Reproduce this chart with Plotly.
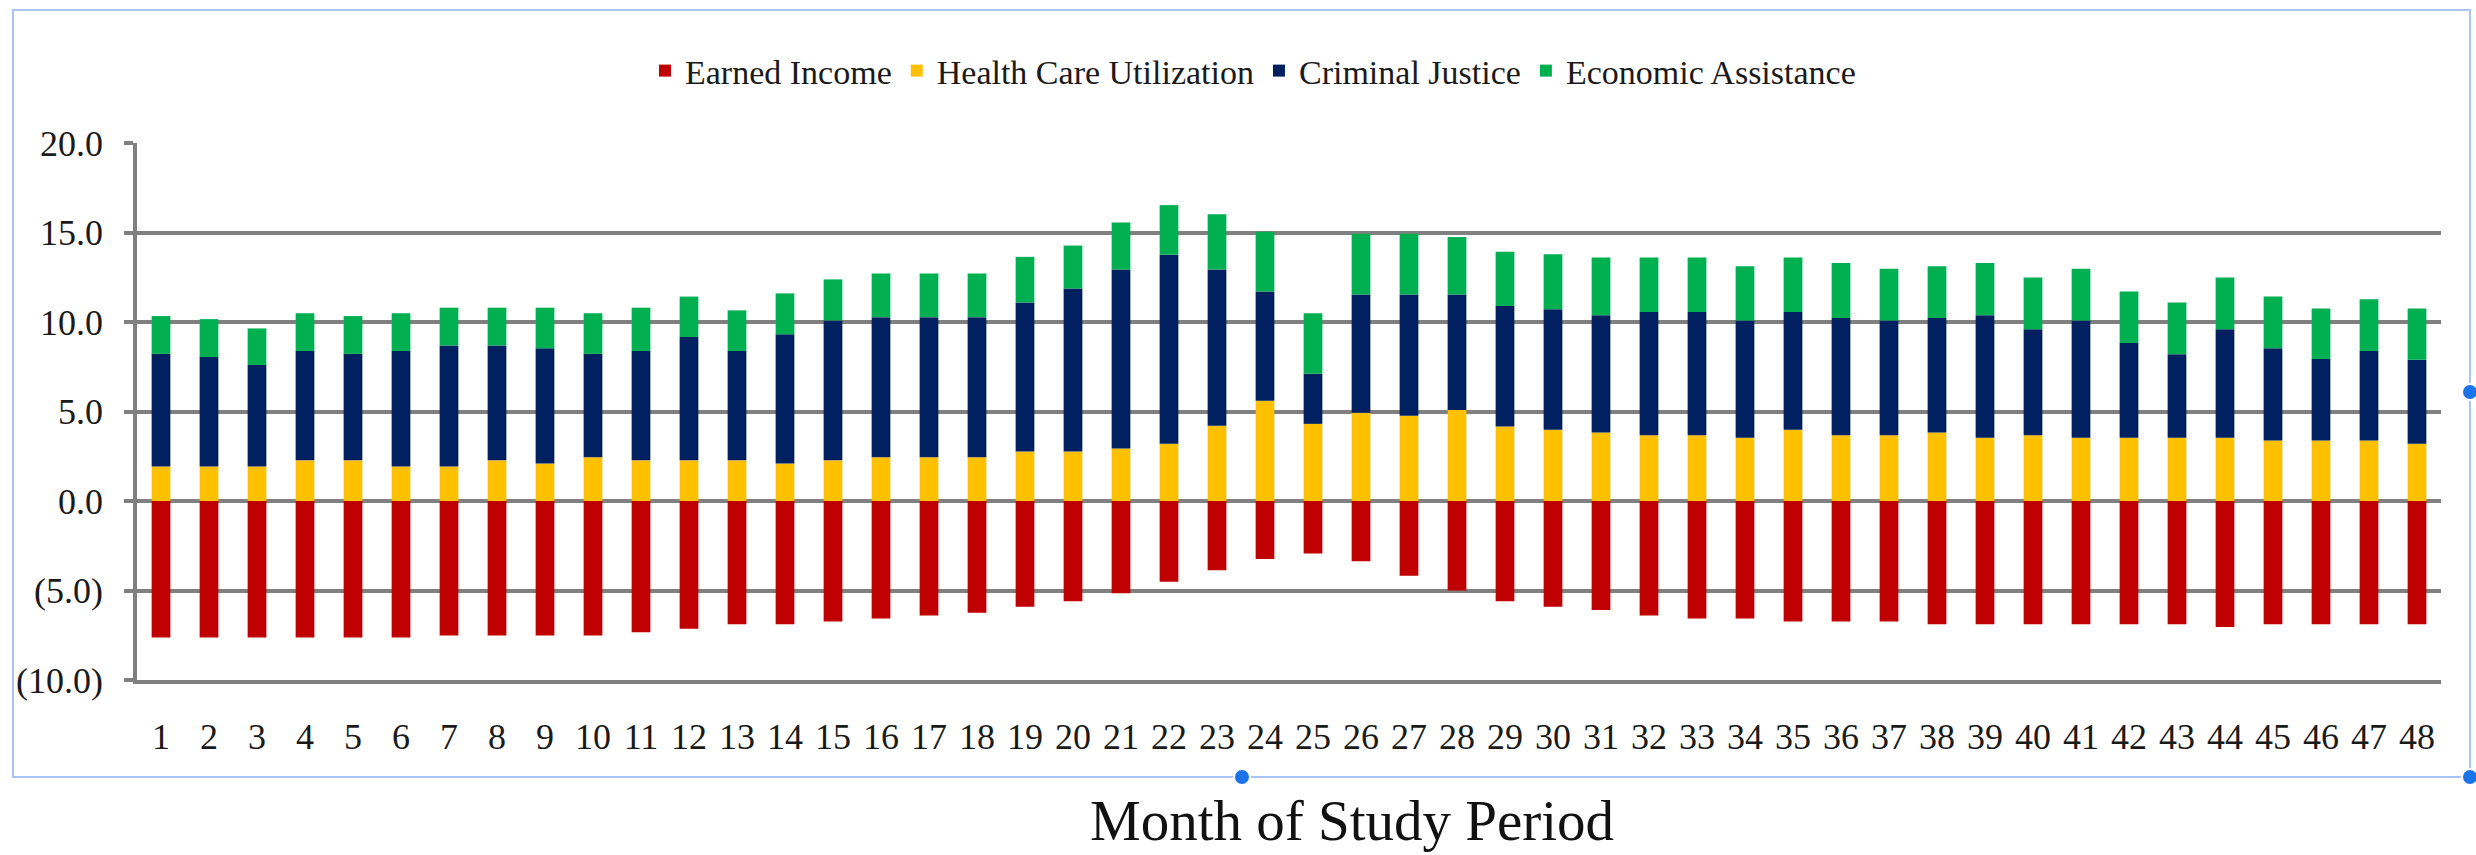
import plotly.graph_objects as go

months = [str(i) for i in range(1, 49)]

earned_income = [-7.62, -7.62, -7.62, -7.62, -7.62, -7.62, -7.51, -7.51, -7.51, -7.51,
                 -7.33, -7.13, -6.89, -6.89, -6.73, -6.56, -6.40, -6.24, -5.91, -5.60,
                 -5.16, -4.51, -3.87, -3.24, -2.93, -3.36, -4.18, -5.00, -5.60, -5.91,
                 -6.09, -6.40, -6.56, -6.56, -6.73, -6.73, -6.73, -6.89, -6.89, -6.89,
                 -6.89, -6.89, -6.89, -7.04, -6.89, -6.89, -6.89, -6.89]

health_care = [1.93, 1.93, 1.93, 2.27, 2.27, 1.93, 1.93, 2.27, 2.09, 2.44,
               2.27, 2.27, 2.27, 2.09, 2.27, 2.44, 2.44, 2.44, 2.76, 2.76,
               2.93, 3.20, 4.20, 5.60, 4.31, 4.93, 4.76, 5.09, 4.16, 3.98,
               3.82, 3.67, 3.67, 3.53, 3.98, 3.67, 3.67, 3.82, 3.53, 3.67,
               3.53, 3.53, 3.53, 3.53, 3.38, 3.38, 3.38, 3.20]

criminal_justice = [6.29, 6.11, 5.67, 6.11, 5.95, 6.45, 6.76, 6.42, 6.44, 5.78,
                    6.11, 6.89, 6.11, 7.22, 7.82, 7.83, 7.83, 7.83, 8.33, 9.11,
                    10.00, 10.56, 8.73, 6.11, 2.80, 6.60, 6.77, 6.44, 6.73, 6.73,
                    6.56, 6.89, 6.89, 6.56, 6.58, 6.55, 6.42, 6.40, 6.85, 5.93,
                    6.56, 5.29, 4.67, 6.07, 5.15, 4.55, 5.00, 4.69]

economic_assistance = [2.11, 2.12, 2.04, 2.11, 2.11, 2.11, 2.11, 2.11, 2.27, 2.27,
                       2.42, 2.26, 2.27, 2.29, 2.29, 2.44, 2.44, 2.44, 2.55, 2.40,
                       2.63, 2.77, 3.09, 3.33, 3.38, 3.40, 3.40, 3.22, 3.04, 3.07,
                       3.22, 3.04, 3.04, 3.02, 3.04, 3.07, 2.89, 2.89, 2.91, 2.89,
                       2.89, 2.89, 2.89, 2.89, 2.89, 2.83, 2.89, 2.87]

series_names = ["Earned Income", "Health Care Utilization", "Criminal Justice", "Economic Assistance"]
series_colors = ["#c00000", "#ffc000", "#002060", "#00b050"]
series_values = [earned_income, health_care, criminal_justice, economic_assistance]

y_tick_vals = [-10, -5, 0, 5, 10, 15, 20]
y_tick_text = ["(10.0)", "(5.0)", "0.0", "5.0", "10.0", "15.0", "20.0"]

FONT = "Liberation Serif, Times New Roman, serif"
W, H = 2476, 855
ML, MR, MT, MB = 137, 35, 143, 175
PW = W - ML - MR
PH = H - MT - MB


def px_x(px):
    return (px - ML) / PW


def px_y(py):
    return (H - MB - py) / PH


fig = go.Figure()
for name, color, vals in zip(series_names, series_colors, series_values):
    fig.add_trace(go.Bar(x=months, y=vals, name=name, marker_color=color,
                         marker_line_width=0))

shapes = []
# outer light-blue frame
shapes.append(dict(type="rect", xref="paper", yref="paper",
                   x0=px_x(13), x1=px_x(2470), y0=px_y(777), y1=px_y(10),
                   line=dict(color="#a9c4f6", width=2), layer="below"))
# selection handles
for cx, cy in [(1242, 777), (2470, 777), (2470, 392)]:
    r = 8
    shapes.append(dict(type="circle", xref="paper", yref="paper",
                       x0=px_x(cx - r), x1=px_x(cx + r), y0=px_y(cy + r), y1=px_y(cy - r),
                       fillcolor="#1a73e8", line=dict(color="white", width=2), layer="above"))

fig.update_layout(
    width=W, height=H,
    margin=dict(l=ML, r=MR, t=MT, b=MB, pad=0),
    paper_bgcolor="white", plot_bgcolor="white",
    barmode="relative", bargap=0.61,
    font=dict(family=FONT, color="#1a1a1a"),
    showlegend=True,
    legend=dict(orientation="h", x=px_x(1253), xanchor="center", y=px_y(71), yanchor="middle",
                font=dict(family=FONT, size=34, color="#1a1a1a"), traceorder="normal",
                bgcolor="rgba(0,0,0,0)"),
    shapes=shapes,
    annotations=[dict(text="Month of Study Period", xref="paper", yref="paper",
                      x=px_x(1352), y=px_y(820), xanchor="center", yanchor="middle",
                      showarrow=False, font=dict(family=FONT, size=57, color="#111111"))],
)

fig.update_xaxes(type="category", showgrid=False, zeroline=False,
                 showline=True, linecolor="#808080", linewidth=3.5,
                 ticks="", tickfont=dict(family=FONT, size=36, color="#1a1a1a"),
                 ticklabelstandoff=22)
fig.update_yaxes(range=[-10, 20], tickvals=y_tick_vals, ticktext=y_tick_text,
                 showgrid=True, gridcolor="#808080", gridwidth=3.5,
                 zeroline=False, showline=True, linecolor="#808080", linewidth=3.5,
                 ticks="outside", ticklen=9, tickwidth=3.5, tickcolor="#808080",
                 tickfont=dict(family=FONT, size=36, color="#1a1a1a"),
                 ticklabelstandoff=14)

fig.write_html("out.html", config={"displayModeBar": False},
               post_script="document.body.style.margin='0';document.body.style.overflow='hidden';")
